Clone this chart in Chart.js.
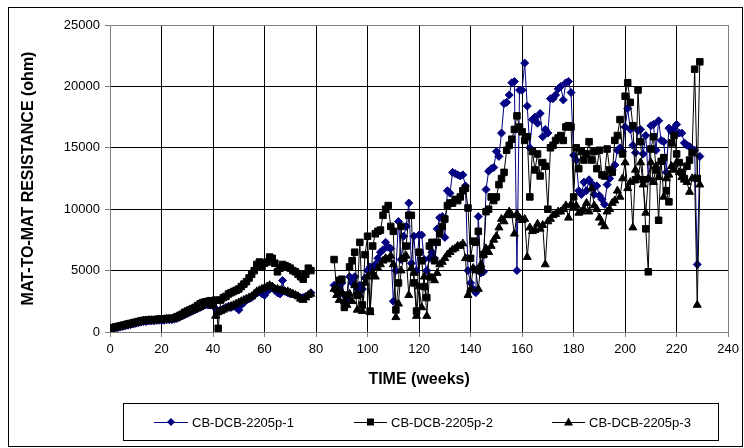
<!DOCTYPE html>
<html>
<head>
<meta charset="utf-8">
<script src="https://cdn.jsdelivr.net/npm/chart.js@4"></script>
<style>
  body { margin: 0; background: #fff; }
  #wrap { width: 744px; height: 448px; }
</style>
</head>
<body>
<div id="wrap"><canvas id="myChart" width="744" height="448"></canvas></div>
<script>
// time in weeks
const weeks = [
  0, 1, 2, 3, 4, 5, 6, 7, 8, 9,
  10, 11, 12, 13, 14, 15, 16, 17, 18, 19,
  20, 21, 22, 23, 24, 25, 26, 27, 28, 29,
  30, 31, 32, 33, 34, 35, 36, 37, 38, 39,
  40, 41, 42, 43, 44, 45, 46, 47, 48, 49,
  50, 51, 52, 53, 54, 55, 56, 57, 58, 59,
  60, 61, 62, 63, 64, 65, 66, 67, 68, 69,
  70, 71, 72, 73, 74, 75, 76, 77, 78, 79,
  80, 81, 82, 83, 84, 85, 86, 87, 88, 89,
  90, 91, 92, 93, 94, 95, 96, 97, 98, 99,
  100, 101, 102, 103, 104, 105, 106, 107, 108, 109,
  110, 111, 112, 113, 114, 115, 116, 117, 118, 119,
  120, 121, 122, 123, 124, 125, 126, 127, 128, 129,
  130, 131, 132, 133, 134, 135, 136, 137, 138, 139,
  140, 141, 142, 143, 144, 145, 146, 147, 148, 149,
  150, 151, 152, 153, 154, 155, 156, 157, 158, 159,
  160, 161, 162, 163, 164, 165, 166, 167, 168, 169,
  170, 171, 172, 173, 174, 175, 176, 177, 178, 179,
  180, 181, 182, 183, 184, 185, 186, 187, 188, 189,
  190, 191, 192, 193, 194, 195, 196, 197, 198, 199,
  200, 201, 202, 203, 204, 205, 206, 207, 208, 209,
  210, 211, 212, 213, 214, 215, 216, 217, 218, 219,
  220, 221, 222, 223, 224, 225, 226, 227, 228, 229
];

// CB-DCB-2205p-1 (ohm)
const p1 = [
  200, 250, 300, 350, 400, 450, 500, 550, 600, 650,
  700, 750, 800, 850, 850, 900, 900, 900, 950, 950,
  950, 950, 1000, 1000, 1000, 1050, 1100, 1200, 1300, 1400,
  1500, 1600, 1700, 1800, 1900, 2000, 2100, 2200, 2200, 2300,
  2200, 1900, 1700, 1800, 1900, 2000, 2100, 2000, 2100, 2000,
  1800, 2200, 2400, 2600, 2700, 2800, 3000, 3200, 3300, 3100,
  3000, 3300, 3500, 3700, 3400, 3200, 3100, 4200, 3300, 3200,
  3100, 3100, 3000, 2900, 2800, 2800, 2900, 3000, 3200, null,
  null, null, null, null, null, null, null, 3800, 3300, 3700,
  4000, 3000, 2700, 4500, 4000, 4500, 3500, 3800, 3500, 4400,
  5000, 5300, 5200, 5500, 6000, 6500, 6700, 7300, 6900, 6800,
  2500, 5000, 9000, 5900, 7800, 8600, 10500, 5600, 7800, 5000,
  7900, 7900, 5900, 5000, 6000, 6500, 6000, 8400, 9300, 9400,
  7700, 11500, 11300, 13000, 12900, 12800, 12700, 12800, 11900, 5000,
  4000, 3500, 3200, 9400, 4800, 4900, 11600, 13100, 13300, 13400,
  14700, 14300, 16200, 18600, 18700, 19300, 20300, 20400, 5000, 19700,
  19700, 21900, 18400, 15000, 17300, 17500, 17000, 17800, 15900, 16500,
  16200, 19000, 19000, 19300, 19800, 20000, 18900, 20300, 20400, 19500,
  14400, 14000, 11500, 11200, 12200, 11500, 12400, 12100, 11200, 11900,
  11100, 10800, 10400, 12000, 12500, 13200, 13600, 14800, 15000, 14700,
  16700, 18200, 16500, 15200, 14600, 16400, 16500, 14500, 16000, 12500,
  16800, 16900, 14800, 17200, 15600, 15500, 13000, 16600, 16300, 16600,
  16900, 16200, 16200, 15400, 15200, 15100, 14900, 14800, 5500, 14300
];

// CB-DCB-2205p-2 (ohm)
const p2 = [
  300, 350, 400, 450, 500, 550, 600, 650, 700, 750,
  800, 850, 900, 950, 950, 1000, 1000, 1000, 1000, 1050,
  1050, 1050, 1100, 1100, 1100, 1150, 1250, 1350, 1450, 1600,
  1700, 1800, 1900, 2000, 2150, 2300, 2400, 2450, 2500, 2550,
  2500, 2600, 300, 2600, 2800, 2900, 3100, 3200, 3300, 3400,
  3500, 3700, 3900, 4100, 4400, 4700, 5000, 5500, 5700, 5300,
  5600, 5700, 6100, 6000, 5600, 4900, 5200, 5500, 5400, 5300,
  5200, 5000, 4900, 4700, 4500, 4300, 4700, 5200, 5000, null,
  null, null, null, null, null, null, null, 5900, 3500, 4200,
  4300, 2000, 3000, 5300, 5800, 6500, 3000, 7300, 2200, 6300,
  7800, 1700, 7000, 8000, 8200, 8300, 9500, 10000, 10300, 8600,
  8200, 1800, 4000, 8600, 6000, 7000, 9500, 9500, 4000, 1700,
  6500, 5800, 3700, 2800, 7000, 7300, 5800, 7300, 8000, 8600,
  9200, 10300, 10500, 10500, 10800, 10700, 11000, 11500, 11700, 10100,
  6000, 7400, 7300, 8200, 5000, 6300, 9800, 10000, 11000, 10700,
  11000, 12000, 12500, 13000, 14800, 15200, 15700, 16500, 17600, 16700,
  16300, 15600, 15900, 11000, 14700, 13200, 14500, 12700, 13800, 13500,
  10000, 15000, 15200, 15600, 15800, 16000, 15600, 16700, 16800, 16700,
  11000, 15000, 13300, 14700, 14000, 14500, 15500, 14000, 14700, 13300,
  14800, 12800, 12700, 14900, 13200, 13000, 15600, 16000, 17300, 14500,
  19200, 20300, 18700, 16800, 12400, 19700, 15500, 12400, 8400, 4900,
  14900, 15900, 13200, 9100, 13900, 14200, 11500, 10600, 15400, 16000,
  14500, 13800, 13000, 12500, 13500, 14000, 14600, 21400, 12500, 22000
];

// CB-DCB-2205p-3 (ohm)
const p3 = [
  250, 300, 350, 400, 450, 500, 550, 600, 650, 700,
  750, 800, 850, 900, 900, 950, 950, 950, 1000, 1000,
  1000, 1000, 1050, 1050, 1050, 1100, 1150, 1250, 1350, 1450,
  1550, 1650, 1750, 1850, 1950, 2050, 2150, 2250, 2300, 2300,
  2100, 1300, 1600, 1700, 1800, 1900, 2000, 2100, 2200, 2300,
  2400, 2500, 2600, 2700, 2800, 2900, 3100, 3300, 3400, 3500,
  3600, 3700, 3800, 3700, 3500, 3500, 3400, 3400, 3300, 3300,
  3200, 3100, 3000, 2900, 2700, 2600, 2800, 3000, 3100, null,
  null, null, null, null, null, null, null, 3500, 3000, 2600,
  3200, 2500, 2200, 3100, 2500, 3800, 1800, 3000, 1700, 4000,
  4500, 1600, 4800, 4500, 5200, 5500, 5800, 6000, 5900, 6200,
  5500, 1200, 2300, 5000, 6000, 6200, 3000, 5200, 4800, 1300,
  3700, 2000, 4500, 1300, 4500, 4400, 4200, 4800, 5500, 5700,
  6000, 6300, 6500, 6700, 6800, 7000, 7000, 7200, 6000, 3000,
  3500, 5200, 5000, 3500, 5500, 6300, 6800, 6500, 7000, 7500,
  7800, 8500, 9200, 9000, 9500, 9800, 9500, 8000, 9600, 9300,
  9100, 9200, 6100, 8500, 8200, 8300, 8800, 8400, 8700, 5500,
  9000, 9200, 9500, 9600, 9800, 9800, 10000, 10300, 9300, 10400,
  10100, 10300, 9700, 9800, 10000, 10500, 9800, 11700, 10300, 10000,
  9300, 8900, 8600, 9800, 10000, 10500, 10700, 11500, 11000, 12500,
  13800, 11700, 12200, 8500, 13200, 12600, 13800, 12000, 9700, 12500,
  13800, 12200, 13500, 12600, 13900, 11000, 12500, 12800, 13500, 13200,
  13800, 13000, 12600, 12400, 12200, 11400, 12500, 12500, 2200, 12000
];

const seriesNames = ['CB-DCB-2205p-1', 'CB-DCB-2205p-2', 'CB-DCB-2205p-3'];
const xTicks = [0, 20, 40, 60, 80, 100, 120, 140, 160, 180, 200, 220, 240];
const yTicks = [0, 5000, 10000, 15000, 20000, 25000];

const NAVY = '#000080';
const FONT = '"Liberation Sans", Arial, sans-serif';

const toPoints = (vals) => weeks.map((w, i) => ({ x: w, y: vals[i] }));

// legend with box, line + marker, plus the outer chart frame
const frameLegend = {
    id: 'frameLegend',
    afterDraw(chart) {
        const ctx = chart.ctx;
        ctx.save();
        ctx.strokeStyle = '#000';
        ctx.lineWidth = 1;
        ctx.strokeRect(8.5, 7.5, 734, 439);
        ctx.strokeRect(123.5, 403.5, 595, 37);

        const items = [
            { x0: 154, x1: 188, tx: 192, color: NAVY, shape: 'diamond' },
            { x0: 354, x1: 387, tx: 391, color: '#000', shape: 'square' },
            { x0: 552, x1: 585, tx: 589, color: '#000', shape: 'triangle' }
        ];
        const y = 422;
        ctx.font = '13px ' + FONT;
        ctx.textBaseline = 'middle';
        items.forEach((it, i) => {
            ctx.strokeStyle = it.color;
            ctx.fillStyle = it.color;
            ctx.beginPath();
            ctx.moveTo(it.x0, y + 0.5);
            ctx.lineTo(it.x1, y + 0.5);
            ctx.stroke();
            const cx = (it.x0 + it.x1) / 2;
            ctx.beginPath();
            if (it.shape === 'diamond') {
                ctx.moveTo(cx, y - 4); ctx.lineTo(cx + 4, y); ctx.lineTo(cx, y + 4); ctx.lineTo(cx - 4, y);
            } else if (it.shape === 'square') {
                ctx.rect(cx - 3.5, y - 3.5, 7, 7);
            } else {
                ctx.moveTo(cx, y - 4.5); ctx.lineTo(cx + 4.5, y + 3.5); ctx.lineTo(cx - 4.5, y + 3.5);
            }
            ctx.closePath();
            ctx.fill();
            ctx.fillStyle = '#000';
            ctx.fillText(seriesNames[i], it.tx, y + 1);
        });
        ctx.restore();
    }
};

const ctx = document.getElementById('myChart').getContext('2d');
new Chart(ctx, {
    type: 'line',
    data: {
        datasets: [
            {
                label: seriesNames[0],
                data: toPoints(p1),
                borderColor: NAVY,
                backgroundColor: NAVY,
                borderWidth: 1,
                pointStyle: 'rectRot',
                pointRadius: 4,
                pointBorderWidth: 1,
                order: 3
            },
            {
                label: seriesNames[1],
                data: toPoints(p2),
                borderColor: '#000',
                backgroundColor: '#000',
                borderWidth: 1,
                pointStyle: 'rect',
                pointRadius: 4.6,
                pointBorderWidth: 1,
                order: 2
            },
            {
                label: seriesNames[2],
                data: toPoints(p3),
                borderColor: '#000',
                backgroundColor: '#000',
                borderWidth: 1,
                pointStyle: 'triangle',
                pointRadius: 4.6,
                pointBorderWidth: 1,
                order: 1
            }
        ]
    },
    options: {
        responsive: false,
        animation: false,
        devicePixelRatio: 1,
        events: [],
        spanGaps: false,
        layout: { padding: { left: 9, top: 25, right: 11, bottom: 59 } },
        plugins: {
            legend: { display: false },
            tooltip: { enabled: false }
        },
        scales: {
            x: {
                type: 'linear',
                min: 0,
                max: 240,
                afterBuildTicks: (scale) => { scale.ticks = xTicks.map(v => ({ value: v })); },
                afterFit: (scale) => { scale.height = 57; },
                ticks: {
                    color: '#000',
                    font: { family: FONT, size: 13 },
                    padding: 5,
                    maxRotation: 0,
                    callback: (v) => String(v)
                },
                grid: {
                    color: (c) => (c.tick && c.tick.value === 240 ? '#808080' : '#000'),
                    tickColor: '#808080',
                    tickLength: 5,
                    lineWidth: 1
                },
                border: { color: '#808080', width: 1 },
                title: {
                    display: true,
                    text: 'TIME (weeks)',
                    color: '#000',
                    font: { family: FONT, size: 16, weight: 'bold' },
                    padding: { top: 0, bottom: 0 }
                }
            },
            y: {
                min: 0,
                max: 25000,
                afterBuildTicks: (scale) => { scale.ticks = yTicks.map(v => ({ value: v })); },
                afterFit: (scale) => { scale.width = 101; },
                ticks: {
                    color: '#000',
                    font: { family: FONT, size: 13 },
                    padding: 5,
                    callback: (v) => String(v)
                },
                grid: {
                    color: (c) => (c.tick && c.tick.value === 25000 ? '#808080' : '#000'),
                    tickColor: '#808080',
                    tickLength: 5,
                    lineWidth: 1
                },
                border: { color: '#808080', width: 1 },
                title: {
                    display: true,
                    text: 'MAT-TO-MAT RESISTANCE (ohm)',
                    color: '#000',
                    font: { family: FONT, size: 16, weight: 'bold' },
                    padding: { top: 10, bottom: 0 }
                }
            }
        }
    },
    plugins: [frameLegend]
});
</script>
</body>
</html>
